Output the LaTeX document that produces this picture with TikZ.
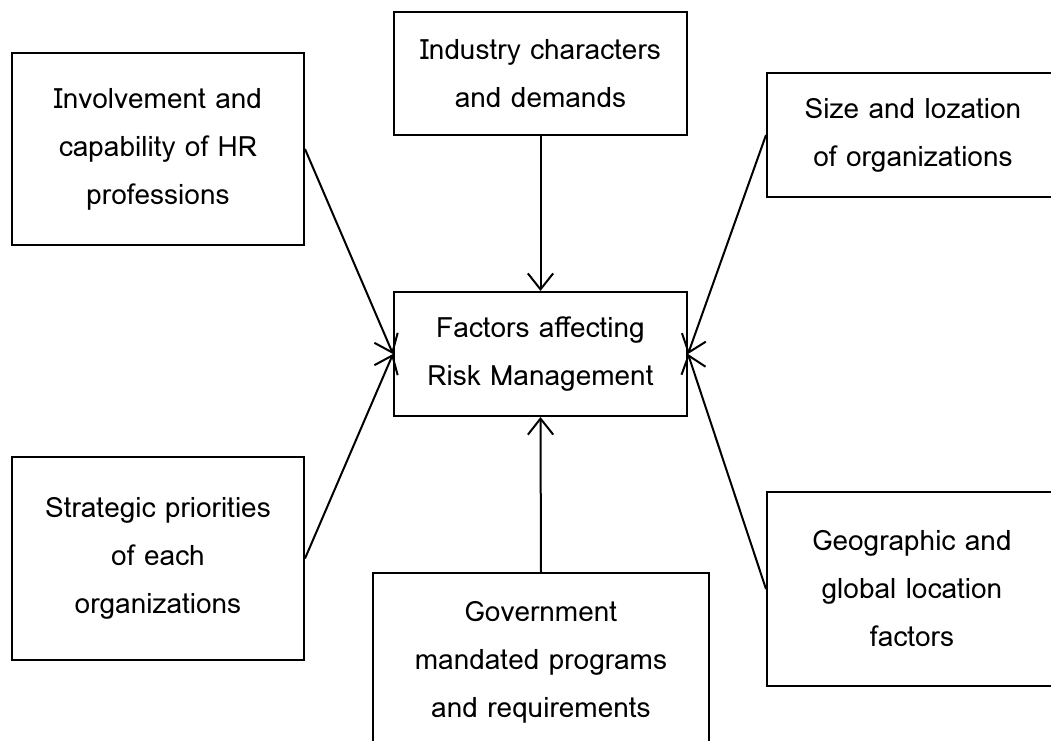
\documentclass[tikz,border=0pt]{standalone}
\usepackage{fontspec}
\setmainfont{Loma}
\usepackage{tikz}
\usetikzlibrary{arrows.meta, positioning}
\tikzset{
  factor/.style={rectangle, draw=black, fill=white, line width=1.5pt,
    align=center, font=\fontsize{21}{36}\selectfont, inner sep=0pt},
  arrow/.style={-{Straight Barb[length=12pt, width=19pt, line width=1.5pt]}, line width=1.5pt}
}
\begin{document}
\begin{tikzpicture}[x=0.75pt, y=-0.75pt]
  \useasboundingbox (0,0) rectangle (1051,740);
  \clip (0,0) rectangle (1051,740);
  % Centre box
  \node[factor, minimum width=219.75pt, minimum height=93pt] (riskbox) at (540.5, 354) {Factors affecting\\Risk Management};

  % Surrounding factors
  \node[factor, minimum width=219pt, minimum height=144pt] (hrbox) at (158, 149) {Involvement and\\capability of HR\\professions};
  \node[factor, minimum width=219.75pt, minimum height=92.25pt] (indbox) at (540.5, 73.5) {Industry characters\\and demands};
  \node[factor, minimum width=219pt, minimum height=93pt] (sizebox) at (913, 135) {Size and lozation\\of organizations};
  \node[factor, minimum width=219pt, minimum height=152.25pt] (stratbox) at (158, 558.5) {Strategic priorities\\of each\\organizations};
  \node[factor, minimum width=252pt, minimum height=133.5pt] (govbox) at (541, 662) {Government\\mandated programs\\and requirements};
  \node[factor, minimum width=217.5pt, minimum height=145.5pt] (geobox) at (912, 589) {Geographic and\\global location\\factors};

  % Arrows into the centre
  \draw[arrow] (hrbox.east) -- (riskbox.west);
  \draw[arrow] (indbox.south) -- (riskbox.north);
  \draw[arrow] (sizebox.west) -- (riskbox.east);
  \draw[arrow] (stratbox.east) -- (riskbox.west);
  \draw[arrow] (govbox.north) -- (riskbox.south);
  \draw[arrow] (geobox.west) -- (riskbox.east);
\end{tikzpicture}
\end{document}
